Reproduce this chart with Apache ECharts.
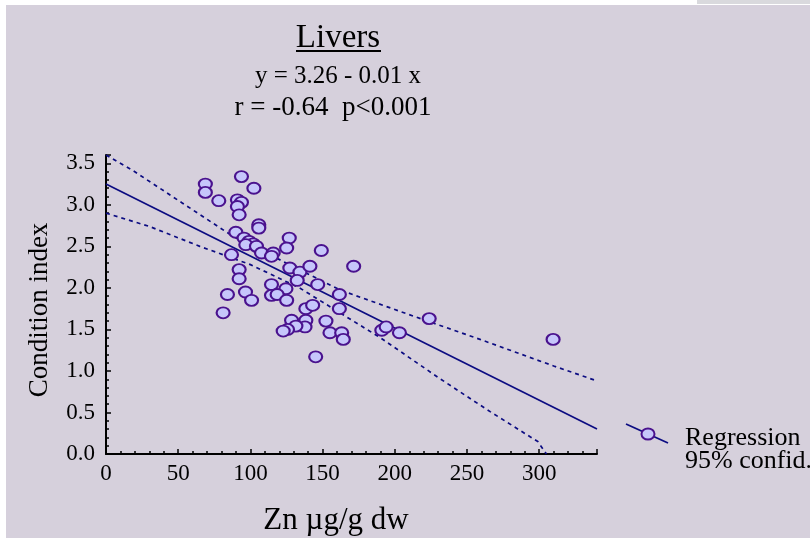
<!DOCTYPE html>
<html><head><meta charset="utf-8">
<script src="https://cdn.jsdelivr.net/npm/echarts@6/dist/echarts.min.js"></script>
<style>html,body{margin:0;padding:0;background:#fff;}#c{width:810px;height:538px;}</style>
</head><body><div id="c"></div>
<script>
// Scatter data: Zn (µg/g dw) and condition index
const zn = [68.8, 68.8, 93.8, 102.4, 78.1, 91.0, 93.8, 91.0, 92.2, 105.8, 105.8, 89.9,
  126.9, 125.1, 95.6, 99.1, 101.9, 96.8, 104.2, 86.9, 107.7, 115.8, 114.6, 149.1,
  127.3, 134.3, 141.2, 132.4, 92.2, 92.2, 114.6, 124.6, 114.6, 118.5, 125.1, 84.1,
  96.6, 100.8, 81.1, 138.4, 143.1, 128.5, 138.4, 137.8, 131.5, 125.7, 122.7, 145.2,
  146.6, 171.5, 161.6, 161.6, 152.3, 155.1, 163.2, 164.3, 191.0, 194.0, 203.2, 223.8, 309.6];
const ci = [3.25, 3.15, 3.34, 3.20, 3.05, 3.06, 3.03, 2.98, 2.88, 2.76, 2.72, 2.67,
  2.60, 2.48, 2.60, 2.56, 2.53, 2.52, 2.50, 2.40, 2.42, 2.42, 2.38, 2.45,
  2.24, 2.19, 2.26, 2.09, 2.22, 2.11, 2.04, 1.99, 1.91, 1.92, 1.85, 1.92,
  1.95, 1.85, 1.70, 1.75, 1.79, 1.61, 1.61, 1.53, 1.54, 1.50, 1.48, 1.17,
  2.04, 2.26, 1.92, 1.75, 1.60, 1.46, 1.46, 1.38, 1.49, 1.53, 1.46, 1.63, 1.38];
// Regression line (read endpoints)
const regX = [0, 340];
const regY = [3.25, 0.30];
// 95% confidence bands
const upX = [0, 18, 53, 88, 134, 162, 208, 259, 310, 340];
const upY = [3.60, 3.42, 3.02, 2.62, 2.22, 1.975, 1.69, 1.38, 1.06, 0.88];
const loX = [0, 30, 65, 100, 134, 162, 190, 231, 266, 299, 305];
const loY = [2.90, 2.74, 2.50, 2.28, 2.00, 1.70, 1.40, 0.91, 0.51, 0.15, 0.0];
// Texts
const titleText = 'Livers';
const eqText = 'y = 3.26 - 0.01 x';
const statText = 'r = -0.64  p<0.001';
const xName = 'Zn \u00b5g/g dw';
const yName = 'Condition index';
const legendNames = ['Regression', '95% confid.'];

const pair = (a, b) => a.map((v, i) => [v, b[i]]);
const FONT = '"Liberation Serif", "Times New Roman", serif';
const LINE = '#0c0c82';

const chart = echarts.init(document.getElementById('c'), null, {renderer: 'canvas'});
chart.setOption({
  backgroundColor: '#d6d0dc',
  animation: false,
  grid: {left: 106, right: 213, top: 155, bottom: 84, containLabel: false},
  xAxis: {
    type: 'value', min: 0, max: 340, interval: 50,
    axisLine: {lineStyle: {color: '#000', width: 2}},
    axisTick: {inside: true, length: 5, lineStyle: {color: '#000', width: 1.5}},
    minorTick: {show: true, splitNumber: 5, length: 3, lineStyle: {color: '#000', width: 1.5}},
    splitLine: {show: false},
    axisLabel: {showMaxLabel: false, margin: 8, fontFamily: FONT, fontSize: 23, color: '#000'}
  },
  yAxis: {
    type: 'value', min: 0, max: 3.6, interval: 0.5,
    axisLine: {show: true, lineStyle: {color: '#000', width: 2}},
    axisTick: {show: true, inside: true, length: 5, lineStyle: {color: '#000', width: 1.5}},
    minorTick: {show: true, splitNumber: 5, length: 3, lineStyle: {color: '#000', width: 1.5}},
    splitLine: {show: false},
    axisLabel: {showMaxLabel: false, margin: 11, fontFamily: FONT, fontSize: 23, color: '#000',
      formatter: v => v.toFixed(1)}
  },
  series: [
    {type: 'line', name: 'upper', data: pair(upX, upY), showSymbol: false,
      lineStyle: {color: LINE, width: 1.7, type: [4, 4]}, z: 2},
    {type: 'line', name: 'lower', data: pair(loX, loY), showSymbol: false,
      lineStyle: {color: LINE, width: 1.7, type: [4, 4]}, z: 2},
    {type: 'line', name: legendNames[0], data: pair(regX, regY), showSymbol: false,
      lineStyle: {color: LINE, width: 1.7}, z: 2},
    {type: 'scatter', name: 'points', data: pair(zn, ci), symbol: 'circle', symbolSize: [13, 11],
      itemStyle: {color: '#c6c6fb', borderColor: '#4a128e', borderWidth: 2, opacity: 1}, z: 3}
  ],
  graphic: [
    {type: 'rect', shape: {x: 0, y: 0, width: 810, height: 5}, style: {fill: '#fff'}, silent: true},
    {type: 'rect', shape: {x: 0, y: 0, width: 6, height: 538}, style: {fill: '#fff'}, silent: true},
    {type: 'rect', shape: {x: 697, y: 0, width: 113, height: 4}, style: {fill: '#d9d9dd'}, silent: true},
    {type: 'text', x: 338, y: 38, style: {text: titleText, font: '33px ' + FONT, fill: '#000', textAlign: 'center', textVerticalAlign: 'middle'}},
    {type: 'line', shape: {x1: 296, y1: 51, x2: 381, y2: 51}, style: {stroke: '#000', lineWidth: 2}},
    {type: 'text', x: 338, y: 76, style: {text: eqText, font: '25px ' + FONT, fill: '#000', textAlign: 'center', textVerticalAlign: 'middle'}},
    {type: 'text', x: 333, y: 108, style: {text: statText, font: '27px ' + FONT, fill: '#000', textAlign: 'center', textVerticalAlign: 'middle'}},
    {type: 'text', x: 40, y: 310, rotation: Math.PI / 2, style: {text: yName, font: '27px ' + FONT, fill: '#000', textAlign: 'center', textVerticalAlign: 'middle'}},
    {type: 'text', x: 336, y: 521, style: {text: xName, font: '31px ' + FONT, fill: '#000', textAlign: 'center', textVerticalAlign: 'middle'}},
    {type: 'line', shape: {x1: 626, y1: 424, x2: 668, y2: 443}, style: {stroke: LINE, lineWidth: 1.8}},
    {type: 'ellipse', shape: {cx: 648, cy: 434, rx: 6.5, ry: 5.5}, style: {fill: '#c6c6fb', stroke: '#4a128e', lineWidth: 2}},
    {type: 'text', x: 685, y: 438, style: {text: legendNames[0], font: '26px ' + FONT, fill: '#000', textAlign: 'left', textVerticalAlign: 'middle'}},
    {type: 'text', x: 685, y: 461, style: {text: legendNames[1], font: '26px ' + FONT, fill: '#000', textAlign: 'left', textVerticalAlign: 'middle'}}
  ]
});
</script></body></html>
